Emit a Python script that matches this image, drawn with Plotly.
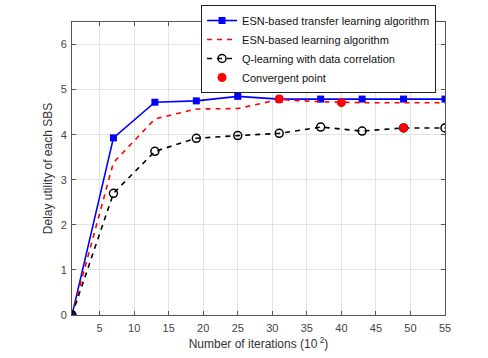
import plotly.graph_objects as go

iterations = [1, 7, 13, 19, 25, 31, 37, 43, 49, 55]
esn_transfer = [0, 3.93, 4.72, 4.75, 4.85, 4.79, 4.79, 4.79, 4.79, 4.79]
esn_learning = [0, 3.38, 4.35, 4.57, 4.58, 4.78, 4.73, 4.71, 4.71, 4.71]
q_learning = [0, 2.70, 3.63, 3.92, 3.98, 4.03, 4.17, 4.08, 4.15, 4.15]
conv_x = [31, 40, 49]
conv_y = [4.79, 4.71, 4.15]
x_ticks = [5, 10, 15, 20, 25, 30, 35, 40, 45, 50, 55]
y_ticks = [0, 1, 2, 3, 4, 5, 6]

fig = go.Figure()
fig.add_trace(go.Scatter(x=iterations, y=esn_transfer, mode="lines+markers",
                         name="ESN-based transfer learning algorithm",
                         line=dict(color="#0000ff", width=1.6),
                         marker=dict(symbol="square", size=7, color="#0000ff")))
fig.add_trace(go.Scatter(x=iterations, y=esn_learning, mode="lines",
                         name="ESN-based learning algorithm",
                         line=dict(color="#ff0000", width=1.6, dash="5px,5px")))
fig.add_trace(go.Scatter(x=iterations, y=q_learning, mode="lines+markers",
                         name="Q-learning with data correlation",
                         line=dict(color="#000000", width=1.6, dash="5px,5px"),
                         marker=dict(symbol="circle-open", size=8, color="#000000",
                                     line=dict(width=1.5))))
fig.add_trace(go.Scatter(x=conv_x, y=conv_y, mode="markers",
                         name="Convergent point",
                         marker=dict(symbol="circle", size=9, color="#ff0000")))

axis_common = dict(showline=True, linecolor="#555", linewidth=1, mirror="ticks",
                   ticks="inside", ticklen=4, tickcolor="#555",
                   showgrid=True, gridcolor="#e3e3e3", gridwidth=1, zeroline=False,
                   tickfont=dict(family="Liberation Sans, Arial", size=11, color="#444"))

fig.update_xaxes(range=[1, 55], tickvals=x_ticks, ticklabelstandoff=3,
                 title=dict(text="Number of iterations (10<sup> 2</sup>)",
                            font=dict(family="Liberation Sans, Arial", size=12, color="#333"),
                            standoff=6),
                 **axis_common)
fig.update_yaxes(range=[0, 6.5], tickvals=y_ticks, ticklabelstandoff=2,
                 title=dict(text="Delay utility of each SBS",
                            font=dict(family="Liberation Sans, Arial", size=12, color="#333"),
                            standoff=5),
                 **axis_common)

fig.update_layout(
    width=488, height=358,
    margin=dict(l=72, r=43, t=22, b=43, autoexpand=False),
    plot_bgcolor="white", paper_bgcolor="white",
    showlegend=True,
    legend=dict(x=0.976, y=1.058, xanchor="right", yanchor="top",
                bgcolor="white", bordercolor="#222", borderwidth=1,
                font=dict(family="Liberation Sans, Arial", size=11, color="#111"),
                tracegroupgap=0, itemwidth=30),
)

fig.write_html("out.html",
               config={"displayModeBar": False},
               post_script="document.body.style.margin='0';document.body.style.padding='0';")
